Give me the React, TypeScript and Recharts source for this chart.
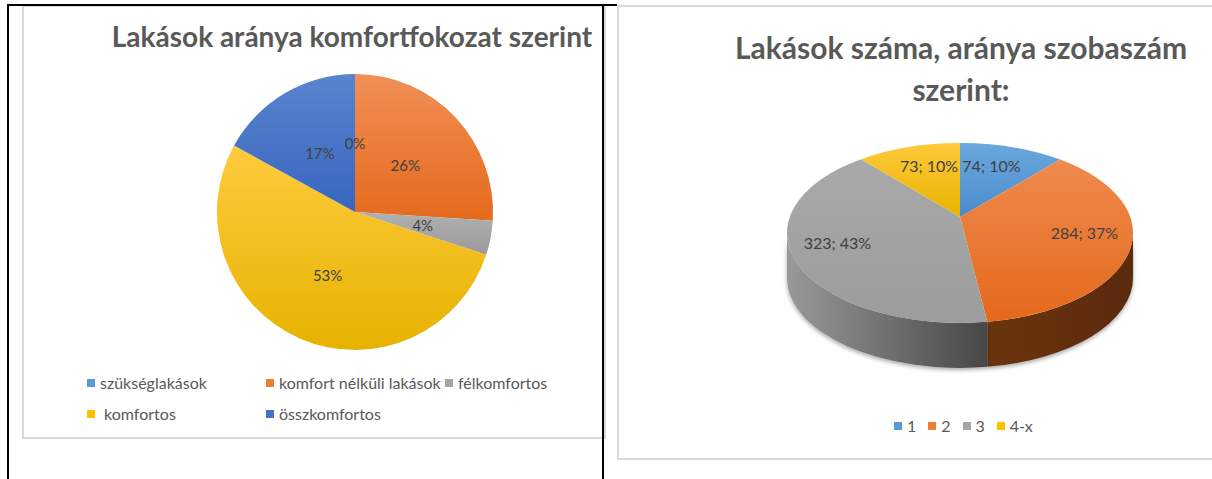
import { Cell, Legend, Pie, PieChart } from 'recharts';

const FONT = 'Lato, "Open Sans", sans-serif';
const RAD = Math.PI / 180;

// left chart: komfortfokozat (percent of all flats)
const comfortNames = ['szükséglakások', 'komfort nélküli lakások', 'félkomfortos', ' komfortos', 'összkomfortos'];
const comfortPercents = [0, 26, 4, 53, 17];
const comfortColors = ['#5b9bd5', '#ed7d31', '#a5a5a5', '#ffc000', '#4472c4'];
const comfortTop = ['#6aa8dd', '#f18f57', '#b0b0b0', '#ffcb3d', '#5a84cf'];
const comfortBottom = ['#4f8ecb', '#e46a1c', '#9a9a9a', '#e6b200', '#3866bf'];

// right chart: szobaszám (count + percent shown by Excel)
const roomNames = ['1', '2', '3', '4-x'];
const roomCounts = [74, 284, 323, 73];
const roomPercents = [10, 37, 43, 10];
const roomColors = ['#5b9bd5', '#ed7d31', '#a5a5a5', '#ffc000'];
const roomTop = ['#6aa8dd', '#ef8a4e', '#a9a9a9', '#ffc93a'];
const roomBottom = ['#4a8bcb', '#e4691b', '#9c9c9c', '#e8b300'];
const roomWall: Record<number, [string, string]> = {
  1: ['#6b350f', '#5a2a0b'],
  2: ['#999999', '#474747'],
};

const comfortData = comfortNames.map((name, i) => ({ name, value: comfortPercents[i] }));
const roomData = roomNames.map((name, i) => ({ name, value: roomCounts[i] }));

const TILT = 0.52;
const LIFT = 16;
const DEPTH = 45;

function comfortLabel(props: any) {
  const { cx, cy, midAngle, outerRadius, value } = props;
  const r = outerRadius * 0.5;
  const x = cx + r * Math.cos(-midAngle * RAD);
  const y = cy + r * Math.sin(-midAngle * RAD);
  return (
    <text x={x} y={y} textAnchor="middle" dominantBaseline="central" fill="#404040" fontSize={15} fontFamily={FONT}>
      {value}%
    </text>
  );
}

function roomLabel(props: any) {
  const { cx, cy, midAngle, outerRadius, value, percent, index } = props;
  const k = 0.55 + 0.5 * percent;
  const x = cx + k * outerRadius * Math.cos(midAngle * RAD);
  const y = cy - k * outerRadius * TILT * Math.sin(midAngle * RAD);
  return (
    <text x={x} y={y} textAnchor="middle" dominantBaseline="central" fill="#404040" fontSize={16} fontFamily={FONT}>
      {`${value}; ${roomPercents[index]}%`}
    </text>
  );
}

function ellipsePt(ex: number, ey: number, rx: number, ry: number, deg: number) {
  return [ex + rx * Math.cos(deg * RAD), ey - ry * Math.sin(deg * RAD)];
}

function Slice3D(props: any) {
  const { cx, cy, outerRadius, startAngle, endAngle, index } = props;
  const rx = outerRadius;
  const ry = outerRadius * TILT;
  const ex = cx;
  const ey = cy + LIFT;
  const hi = Math.max(startAngle, endAngle);
  const lo = Math.min(startAngle, endAngle);
  const [x1, y1] = ellipsePt(ex, ey, rx, ry, hi);
  const [x2, y2] = ellipsePt(ex, ey, rx, ry, lo);
  const large = hi - lo > 180 ? 1 : 0;
  const top = `M${cx},${cy} L${x1},${y1} A${rx},${ry} 0 ${large} 1 ${x2},${y2} Z`;

  // front wall: part of the rim in the lower half
  let wall = null;
  const a = Math.min(hi, 0);
  const b = Math.max(lo, -180);
  if (a > b) {
    const [wx1, wy1] = ellipsePt(ex, ey, rx, ry, a);
    const [wx2, wy2] = ellipsePt(ex, ey, rx, ry, b);
    const d = `M${wx1},${wy1} A${rx},${ry} 0 0 1 ${wx2},${wy2} L${wx2},${wy2 + DEPTH} A${rx},${ry} 0 0 0 ${wx1},${wy1 + DEPTH} Z`;
    wall = <path d={d} fill={`url(#room-wall-${index})`} filter="url(#room-shadow)" />;
  }
  return (
    <g>
      {wall}
      <path d={top} fill={`url(#room-grad-${index})`} />
    </g>
  );
}

function ComfortLegend(props: any) {
  const { payload } = props;
  return (
    <div style={{ display: 'flex', flexWrap: 'wrap', width: 560, fontFamily: FONT, fontSize: 16, color: '#595959' }}>
      {(payload || []).map((entry: any, i: number) => (
        <div key={i} style={{ width: i % 3 === 2 ? 200 : 179, height: 31, display: 'flex', alignItems: 'center' }}>
          <span
            style={{ width: 8, height: 8, background: comfortColors[comfortNames.indexOf(entry.value)], marginRight: 5, flex: 'none' }}
          />
          <span style={{ whiteSpace: 'pre' }}>{entry.value}</span>
        </div>
      ))}
    </div>
  );
}

function RoomLegend(props: any) {
  const { payload } = props;
  return (
    <div style={{ display: 'flex', fontFamily: FONT, fontSize: 16, color: '#595959' }}>
      {(payload || []).map((entry: any, i: number) => (
        <div key={i} style={{ display: 'flex', alignItems: 'center', marginRight: 12 }}>
          <span style={{ width: 8, height: 8, background: roomColors[roomNames.indexOf(entry.value)], marginRight: 5 }} />
          <span>{entry.value}</span>
        </div>
      ))}
    </div>
  );
}

function line(left: number, top: number, width: number, height: number, color: string) {
  return <div style={{ position: 'absolute', left, top, width, height, background: color }} />;
}

export default function App() {
  return (
    <div style={{ position: 'absolute', left: 0, top: 0, width: 1212, height: 479, background: '#fff', overflow: 'hidden' }}>
      {/* left chart box */}
      <div style={{ position: 'absolute', left: 22, top: 5, width: 580, height: 430, border: '2px solid #d9d9d9', background: '#fff' }} />
      {/* right chart box */}
      <div style={{ position: 'absolute', left: 617, top: 5, width: 620, height: 451, border: '2px solid #d9d9d9', background: '#fff' }} />
      {/* table rules */}
      {line(7, 4, 610, 2, '#000')}
      {line(7, 4, 2, 475, '#000')}
      {line(602, 4, 2, 475, '#000')}

      <div
        style={{
          position: 'absolute', left: 52, top: 20, width: 600, textAlign: 'center',
          fontFamily: FONT, fontWeight: 700, fontSize: 28, lineHeight: 1.2, color: '#595959', whiteSpace: 'nowrap',
        }}
      >
        Lakások aránya komfortfokozat szerint
      </div>
      <div
        style={{
          position: 'absolute', left: 661, top: 26, width: 600, textAlign: 'center',
          fontFamily: FONT, fontWeight: 700, fontSize: 30, lineHeight: '42px', color: '#595959',
        }}
      >
        Lakások száma, aránya szobaszám
        <br />
        szerint:
      </div>

      <div style={{ position: 'absolute', left: 24, top: 7 }}>
        <PieChart width={578} height={428} margin={{ top: 0, right: 0, bottom: 0, left: 0 }}>
          <defs>
            {comfortNames.map((_, i) => (
              <linearGradient key={i} id={`comfort-grad-${i}`} x1="0" y1="0" x2="0" y2="1">
                <stop offset="0%" stopColor={comfortTop[i]} />
                <stop offset="100%" stopColor={comfortBottom[i]} />
              </linearGradient>
            ))}
          </defs>
          <Pie
            data={comfortData}
            dataKey="value"
            nameKey="name"
            cx={331}
            cy={205}
            outerRadius={138}
            startAngle={90}
            endAngle={-270}
            stroke="none"
            label={comfortLabel}
            labelLine={false}
            isAnimationActive={false}
          >
            {comfortData.map((_, i) => (
              <Cell key={i} fill={`url(#comfort-grad-${i})`} />
            ))}
          </Pie>
          <Legend
            content={<ComfortLegend />}
            itemSorter={(item: any) => comfortNames.indexOf(item.value)}
            wrapperStyle={{ left: 63, top: 360, width: 560, bottom: 'auto' }}
          />
        </PieChart>
      </div>

      <div style={{ position: 'absolute', left: 619, top: 7 }}>
        <PieChart width={593} height={449} margin={{ top: 0, right: 0, bottom: 0, left: 0 }}>
          <defs>
            {roomNames.map((_, i) => (
              <linearGradient key={i} id={`room-grad-${i}`} x1="0" y1="0" x2="0" y2="1">
                <stop offset="0%" stopColor={roomTop[i]} />
                <stop offset="100%" stopColor={roomBottom[i]} />
              </linearGradient>
            ))}
            {roomNames.map((_, i) => (
              <linearGradient key={`w${i}`} id={`room-wall-${i}`} x1="0" y1="0" x2="1" y2="0">
                <stop offset="0%" stopColor={(roomWall[i] || ['#444', '#444'])[0]} />
                <stop offset="100%" stopColor={(roomWall[i] || ['#444', '#444'])[1]} />
              </linearGradient>
            ))}
            <filter id="room-shadow" x="-10%" y="-10%" width="120%" height="140%">
              <feDropShadow dx="0" dy="2" stdDeviation="2" floodColor="#000" floodOpacity="0.35" />
            </filter>
          </defs>
          <Pie
            data={roomData}
            dataKey="value"
            nameKey="name"
            cx={341}
            cy={210}
            outerRadius={173}
            startAngle={90}
            endAngle={-270}
            stroke="none"
            shape={Slice3D}
            label={roomLabel}
            labelLine={false}
            isAnimationActive={false}
          >
            {roomData.map((_, i) => (
              <Cell key={i} fill={roomColors[i]} />
            ))}
          </Pie>
          <Legend
            content={<RoomLegend />}
            itemSorter={(item: any) => roomNames.indexOf(item.value)}
            wrapperStyle={{ left: 275, top: 409, width: 200, bottom: 'auto' }}
          />
        </PieChart>
      </div>
    </div>
  );
}
